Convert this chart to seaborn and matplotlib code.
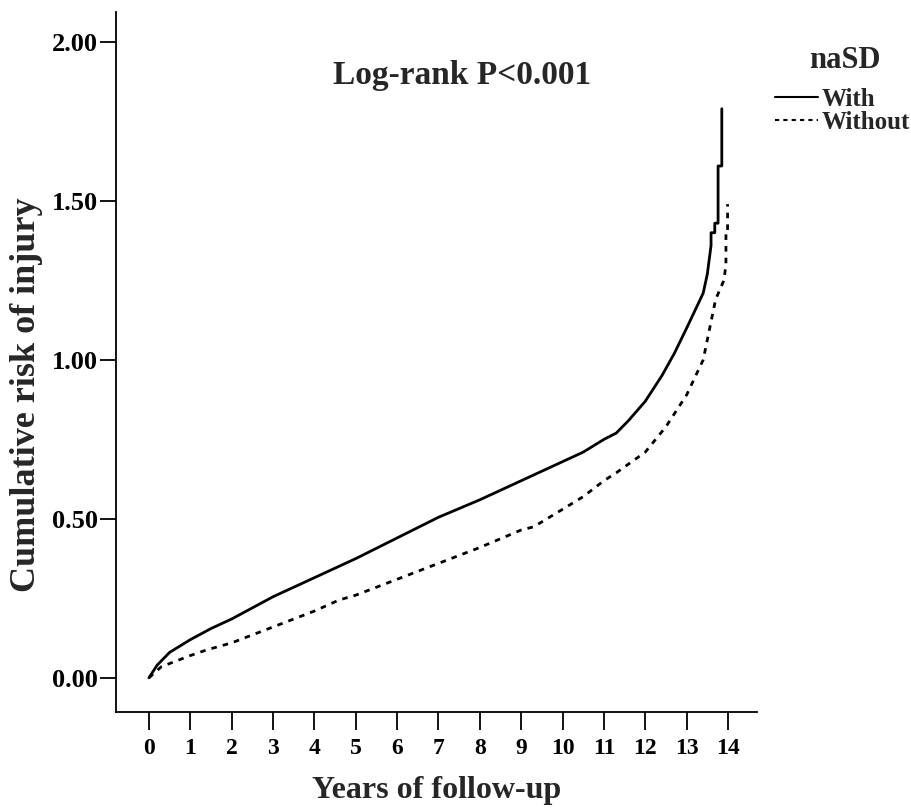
import matplotlib
matplotlib.use("Agg")
import matplotlib.pyplot as plt
import seaborn as sns
import pandas as pd
from matplotlib.lines import Line2D

years_with = [0, 0.2, 0.5, 1, 1.5, 2, 3, 4, 5, 6, 7, 8, 9, 10, 10.5, 11, 11.3, 11.6,
              12, 12.4, 12.7, 13, 13.4, 13.5, 13.59, 13.59, 13.68, 13.68, 13.76, 13.76,
              13.85, 13.85]
risk_with = [0, 0.04, 0.08, 0.12, 0.155, 0.185, 0.255, 0.315, 0.375, 0.44, 0.505, 0.56,
             0.62, 0.68, 0.71, 0.75, 0.77, 0.81, 0.87, 0.95, 1.02, 1.10, 1.21, 1.27,
             1.36, 1.40, 1.40, 1.43, 1.43, 1.61, 1.61, 1.79]

years_without = [0, 0.3, 1, 1.4, 2, 3, 4, 4.6, 5, 6, 7, 8, 9, 9.3, 10, 10.5, 11, 11.3,
                 12, 12.5, 13, 13.4, 13.7, 13.9, 13.95, 13.95, 13.99, 13.99]
risk_without = [0, 0.035, 0.07, 0.088, 0.11, 0.16, 0.21, 0.245, 0.26, 0.31, 0.36, 0.41,
                0.465, 0.475, 0.53, 0.57, 0.62, 0.645, 0.71, 0.79, 0.89, 1.0, 1.19, 1.25,
                1.30, 1.40, 1.40, 1.49]

x_ticks = list(range(0, 15))
y_ticks = [0.0, 0.5, 1.0, 1.5, 2.0]
y_tick_labels = ["0.00", "0.50", "1.00", "1.50", "2.00"]
series_names = ["With", "Without"]

sns.set_theme(style="ticks")
plt.rcParams["font.family"] = ["Liberation Serif", "DejaVu Serif"]
plt.rcParams["font.weight"] = "bold"

df_with = pd.DataFrame({"year": years_with, "risk": risk_with})
df_without = pd.DataFrame({"year": years_without, "risk": risk_without})

fig = plt.figure(figsize=(9.12, 8.08), dpi=100)
ax = fig.add_axes([0.127, 0.119, 0.703, 0.866])

sns.lineplot(data=df_with, x="year", y="risk", estimator=None, sort=False,
             color="black", linewidth=2.0, ax=ax)
sns.lineplot(data=df_without, x="year", y="risk", estimator=None, sort=False,
             color="black", linewidth=2.0, linestyle=(0, (2, 2.2)), ax=ax)

ax.set_xlim(-0.8, 14.7)
ax.set_ylim(-0.107, 2.094)
ax.set_xticks(x_ticks)
ax.set_xticklabels([str(t) for t in x_ticks], fontsize=17, fontweight="bold")
ax.set_yticks(y_ticks)
ax.set_yticklabels(y_tick_labels, fontsize=19, fontweight="bold")
ax.tick_params(axis="x", direction="out", length=13, width=1.3, colors="black", pad=6)
ax.tick_params(axis="y", direction="out", length=11.5, width=1.3, colors="black", pad=1.5)
for s in ["top", "right"]:
    ax.spines[s].set_visible(False)
for s in ["left", "bottom"]:
    ax.spines[s].set_linewidth(1.3)
    ax.spines[s].set_color("black")

ax.set_xlabel("Years of follow-up", fontsize=23, fontweight="bold", labelpad=12)
ax.set_ylabel("Cumulative risk of injury", fontsize=26, fontweight="bold")
ax.yaxis.set_label_coords(-0.114, 0.453)

ax.text(0.54, 0.91, "Log-rank P<0.001", transform=ax.transAxes, ha="center", va="center",
        fontsize=24, fontweight="bold")

fig.text(845 / 912, 1 - 60 / 808, "naSD", ha="center", va="center",
         fontsize=22, fontweight="bold")
handles = [Line2D([0], [0], color="black", lw=1.5),
           Line2D([0], [0], color="black", lw=1.5, linestyle=(0, (2, 2)))]
leg = fig.legend(handles, series_names, loc="upper left",
                 bbox_to_anchor=(0.85, 0.891), frameon=False, fontsize=18, borderpad=0,
                 handlelength=1.7, handletextpad=0.15, labelspacing=0.0, borderaxespad=0)
for t in leg.get_texts():
    t.set_fontweight("bold")

fig.savefig("out.png", dpi=100, facecolor="white")
